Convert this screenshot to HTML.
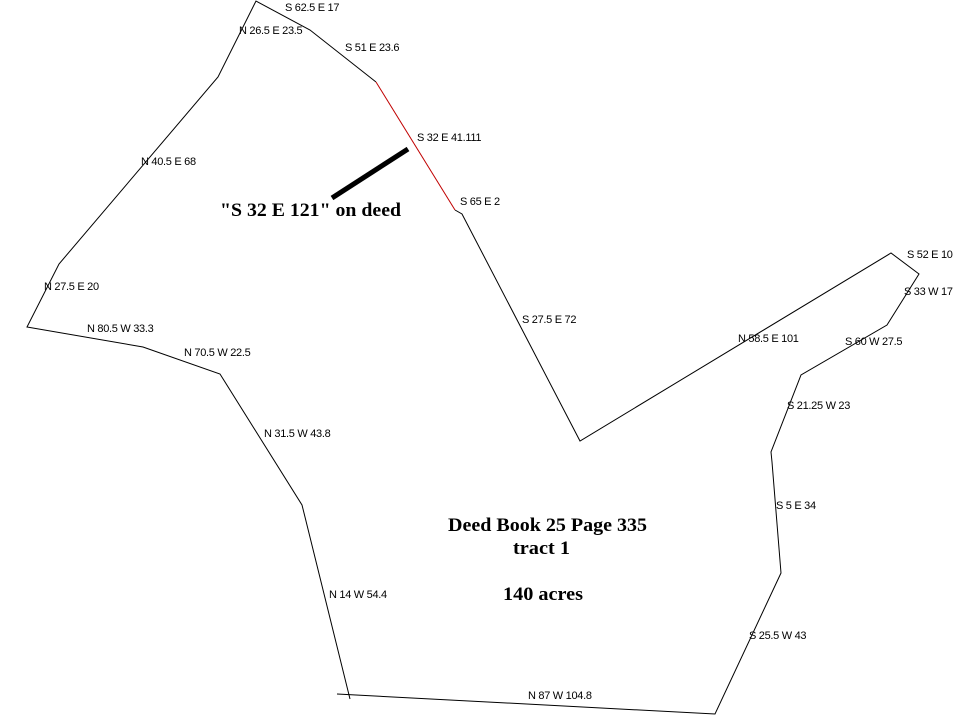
<!DOCTYPE html>
<html><head><meta charset="utf-8"><style>
html,body{margin:0;padding:0;background:#fff;}
svg{display:block;}
.l{font-family:"Liberation Sans",sans-serif;font-size:11px;fill:#000;letter-spacing:-0.3px;}
.b{font-family:"Liberation Serif",serif;font-size:19px;font-weight:bold;fill:#000;}
</style></head><body>
<svg width="971" height="725" viewBox="0 0 971 725" xmlns="http://www.w3.org/2000/svg">
<g fill="none" stroke="#000" stroke-width="1">
<polyline points="376,82 310,30 256,1 218,77 59,264 27,327 143,347 220,374 302,505 305,517 350,699"/>
<polyline points="337,694 715,714 781,573 772,462 771,452 801,375 887,325 919,274 891,253 580,441 462,214 455,210"/>
</g>
<line x1="376" y1="82" x2="455" y2="210" stroke="#c00000" stroke-width="1"/>
<line x1="332" y1="198" x2="408" y2="149" stroke="#000" stroke-width="5"/>
<text class="l" x="285" y="11">S 62.5 E 17</text>
<text class="l" x="239" y="34">N 26.5 E 23.5</text>
<text class="l" x="345" y="51">S 51 E 23.6</text>
<text class="l" x="417" y="141">S 32 E 41.111</text>
<text class="l" x="460" y="205">S 65 E 2</text>
<text class="l" x="141" y="165">N 40.5 E 68</text>
<text class="l" x="44" y="290">N 27.5 E 20</text>
<text class="l" x="87" y="332">N 80.5 W 33.3</text>
<text class="l" x="184" y="356">N 70.5 W 22.5</text>
<text class="l" x="264" y="437">N 31.5 W 43.8</text>
<text class="l" x="329" y="598">N 14 W 54.4</text>
<text class="l" x="528" y="699">N 87 W 104.8</text>
<text class="l" x="522" y="323">S 27.5 E 72</text>
<text class="l" x="738" y="342">N 58.5 E 101</text>
<text class="l" x="907" y="258">S 52 E 10</text>
<text class="l" x="904" y="295">S 33 W 17</text>
<text class="l" x="845" y="345">S 60 W 27.5</text>
<text class="l" x="787" y="409">S 21.25 W 23</text>
<text class="l" x="776" y="509">S 5 E 34</text>
<text class="l" x="749" y="639">S 25.5 W 43</text>
<text class="b" x="220" y="216" textLength="181" lengthAdjust="spacingAndGlyphs">"S 32 E 121" on deed</text>
<text class="b" x="448" y="531" textLength="199" lengthAdjust="spacingAndGlyphs">Deed Book 25 Page 335</text>
<text class="b" x="513" y="554" textLength="57" lengthAdjust="spacingAndGlyphs">tract 1</text>
<text class="b" x="503" y="600" textLength="80" lengthAdjust="spacingAndGlyphs">140 acres</text>
</svg>
</body></html>
